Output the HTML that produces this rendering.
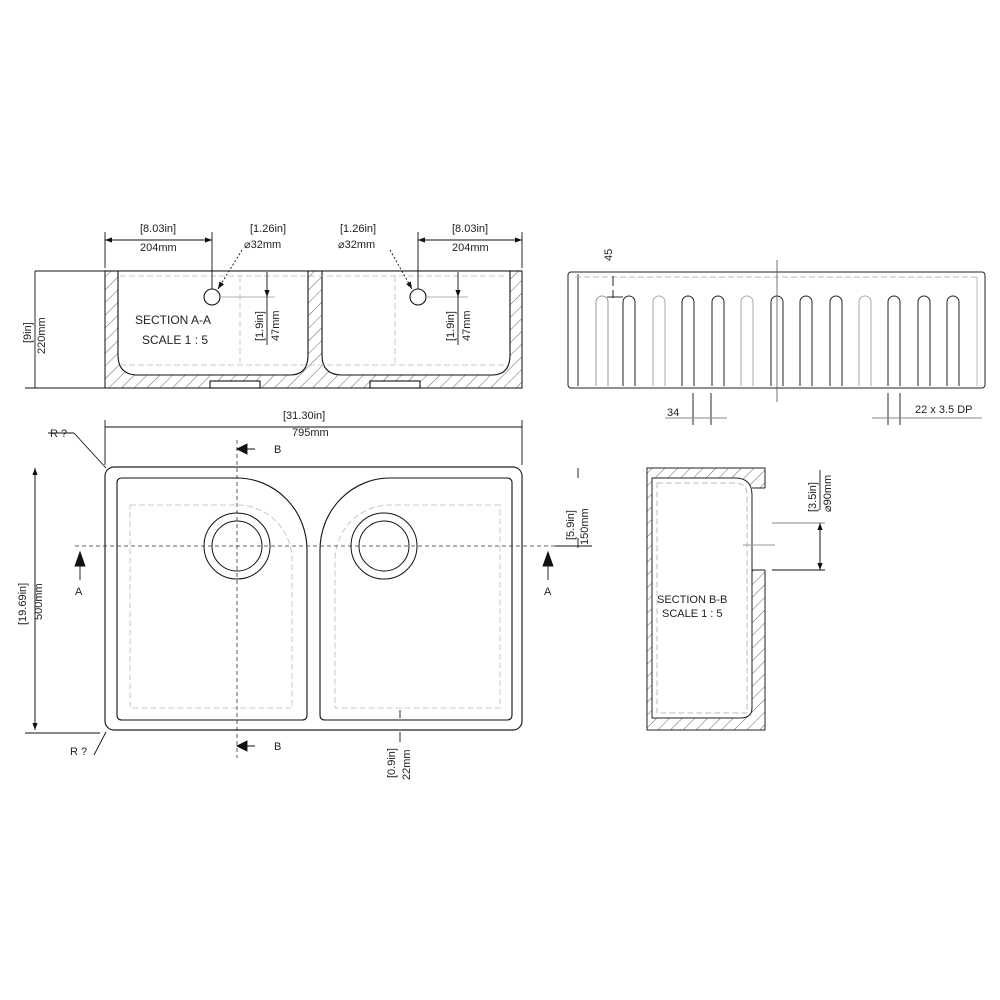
<!DOCTYPE html>
<html><head><meta charset="utf-8"><style>
html,body{margin:0;padding:0;background:#fff;}
svg{display:block;}
text{font-family:"Liberation Sans",sans-serif;fill:#222;}
</style></head><body>
<svg width="1000" height="1000" viewBox="0 0 1000 1000" xmlns="http://www.w3.org/2000/svg">
<defs>
<pattern id="h" patternUnits="userSpaceOnUse" width="9" height="9" patternTransform="rotate(45)">
<line x1="0" y1="0" x2="0" y2="9" stroke="#555" stroke-width="0.9"/>
</pattern>
<marker id="ar" markerWidth="8" markerHeight="6" refX="8" refY="3" orient="auto"><path d="M0,0 L8,3 L0,6 z" fill="#111"/></marker>
</defs>
<rect width="1000" height="1000" fill="#fff"/>

<!-- SECTION A-A -->
<g stroke="#111" stroke-width="1.1" fill="none">
<rect x="105" y="271" width="417" height="117" fill="url(#h)" stroke="#222"/>
<path d="M118,271 L118,355 Q118,375 138,375 L290,375 Q308,375 308,355 L308,271 Z" fill="#fff"/>
<path d="M322,271 L322,355 Q322,375 342,375 L492,375 Q510,375 510,355 L510,271 Z" fill="#fff"/>
<rect x="210" y="381" width="50" height="7" fill="#fff"/>
<rect x="370" y="381" width="50" height="7" fill="#fff"/>
<line x1="35" y1="271" x2="522" y2="271"/>
<circle cx="212" cy="297" r="8" fill="#fff"/>
<circle cx="418" cy="297" r="8" fill="#fff"/>
</g>
<g stroke="#bbb" stroke-width="0.8" fill="none" stroke-dasharray="6,3">
<line x1="120" y1="276" x2="506" y2="276"/>
<line x1="120" y1="365" x2="506" y2="365"/>
<line x1="240" y1="276" x2="240" y2="365"/>
<line x1="395" y1="276" x2="395" y2="365"/>
</g>
<g stroke="#999" stroke-width="0.7"><line x1="220" y1="297" x2="275" y2="297"/><line x1="426" y1="297" x2="468" y2="297"/></g>
<g stroke="#111" stroke-width="0.9" fill="none">
<line x1="105" y1="232" x2="105" y2="268"/><line x1="212" y1="232" x2="212" y2="289"/>
<line x1="105" y1="240" x2="212" y2="240" marker-end="url(#ar)"/><line x1="212" y1="240" x2="105" y2="240" marker-end="url(#ar)"/>
<line x1="418" y1="232" x2="418" y2="289"/><line x1="522" y1="232" x2="522" y2="268"/>
<line x1="418" y1="240" x2="522" y2="240" marker-end="url(#ar)"/><line x1="522" y1="240" x2="418" y2="240" marker-end="url(#ar)"/>
<line x1="242" y1="250" x2="218" y2="289" stroke-dasharray="2,2" marker-end="url(#ar)"/>
<line x1="390" y1="250" x2="412" y2="289" stroke-dasharray="2,2" marker-end="url(#ar)"/>
<line x1="267" y1="272" x2="267" y2="297" marker-end="url(#ar)"/>
<line x1="458" y1="272" x2="458" y2="297" marker-end="url(#ar)"/>
<line x1="267" y1="297" x2="267" y2="345"/><line x1="458" y1="297" x2="458" y2="345"/>
<line x1="35" y1="271" x2="35" y2="388"/><line x1="25" y1="388" x2="105" y2="388"/>
</g>
<g font-size="11">
<text x="140" y="232">[8.03in]</text><text x="140" y="251">204mm</text>
<text x="250" y="232">[1.26in]</text><text x="244" y="248">⌀32mm</text>
<text x="340" y="232">[1.26in]</text><text x="338" y="248">⌀32mm</text>
<text x="452" y="232">[8.03in]</text><text x="452" y="251">204mm</text>
<text x="135" y="324" font-size="12">SECTION A-A</text>
<text x="142" y="344" font-size="12">SCALE 1 : 5</text>
<text transform="translate(263,341) rotate(-90)">[1.9in]</text><text transform="translate(279,341) rotate(-90)">47mm</text>
<text transform="translate(454,341) rotate(-90)">[1.9in]</text><text transform="translate(470,341) rotate(-90)">47mm</text>
<text transform="translate(31,343) rotate(-90)">[9in]</text><text transform="translate(45,354) rotate(-90)">220mm</text>
</g>

<!-- FRONT VIEW -->
<g fill="none">
<rect x="568" y="272" width="417" height="116" rx="3" stroke="#222" stroke-width="1"/>
<line x1="578" y1="274" x2="578" y2="386" stroke="#222"/>
<line x1="575" y1="277" x2="980" y2="277" stroke="#bbb" stroke-dasharray="6,3"/>
<line x1="977" y1="277" x2="977" y2="386" stroke="#bbb"/>
<g stroke-width="1">
<path d="M596,386 V302 a6,6 0 0 1 12,0 V386" stroke="#999"/>
<path d="M623,386 V302 a6,6 0 0 1 12,0 V386" stroke="#222"/>
<path d="M653,386 V302 a6,6 0 0 1 12,0 V386" stroke="#aaa"/>
<path d="M682,386 V302 a6,6 0 0 1 12,0 V386" stroke="#222"/>
<path d="M712,386 V302 a6,6 0 0 1 12,0 V386" stroke="#222"/>
<path d="M741,386 V302 a6,6 0 0 1 12,0 V386" stroke="#aaa"/>
<path d="M771,386 V302 a6,6 0 0 1 12,0 V386" stroke="#222"/>
<path d="M800,386 V302 a6,6 0 0 1 12,0 V386" stroke="#222"/>
<path d="M830,386 V302 a6,6 0 0 1 12,0 V386" stroke="#222"/>
<path d="M859,386 V302 a6,6 0 0 1 12,0 V386" stroke="#aaa"/>
<path d="M888,386 V302 a6,6 0 0 1 12,0 V386" stroke="#222"/>
<path d="M918,386 V302 a6,6 0 0 1 12,0 V386" stroke="#222"/>
<path d="M947,386 V302 a6,6 0 0 1 12,0 V386" stroke="#222"/>
</g>
<line x1="777" y1="260" x2="777" y2="402" stroke="#555" stroke-width="0.8"/>
<g stroke="#111" stroke-width="0.9">
<line x1="613" y1="276" x2="613" y2="286"/><line x1="613" y1="290" x2="613" y2="298"/><line x1="607" y1="297" x2="623" y2="297"/>
<line x1="693" y1="393" x2="693" y2="425"/><line x1="711" y1="393" x2="711" y2="425"/>
<line x1="665" y1="418" x2="727" y2="418" stroke="#888"/>
<line x1="888" y1="393" x2="888" y2="425"/><line x1="900" y1="393" x2="900" y2="425"/>
<line x1="872" y1="418" x2="982" y2="418" stroke="#888"/>
</g>
</g>
<g font-size="11">
<text transform="translate(612,261) rotate(-90)">45</text>
<text x="667" y="416">34</text>
<text x="915" y="413">22 x 3.5 DP</text>
</g>

<!-- PLAN VIEW -->
<g fill="none">
<rect x="105" y="467" width="417" height="263" rx="9" stroke="#222" stroke-width="1.2"/>
<path d="M117,483 Q117,478 122,478 L237,478 A70,72 0 0 1 307,550 L307,715 Q307,720 302,720 L122,720 Q117,720 117,715 Z" stroke="#111" stroke-width="1.1"/>
<path d="M512,483 Q512,478 507,478 L390,478 A70,72 0 0 0 320,550 L320,715 Q320,720 325,720 L507,720 Q512,720 512,715 Z" stroke="#111" stroke-width="1.1"/>
<g stroke="#bbb" stroke-width="0.8" stroke-dasharray="6,3">
<path d="M130,505 L237,505 A55,55 0 0 1 292,560 L292,708 L130,708 Z"/>
<path d="M500,505 L390,505 A55,55 0 0 0 335,560 L335,708 L500,708 Z"/>
</g>
<circle cx="237" cy="546" r="33" stroke="#111"/><circle cx="237" cy="546" r="25" stroke="#111"/>
<circle cx="384" cy="546" r="33" stroke="#111"/><circle cx="384" cy="546" r="25" stroke="#111"/>
<g stroke="#333" stroke-width="0.8" stroke-dasharray="4,3">
<line x1="75" y1="546" x2="560" y2="546"/>
<line x1="237" y1="440" x2="237" y2="758"/>
</g>
<g stroke="#111" stroke-width="0.9">
<path d="M237,449 L255,449" /><path d="M237,449 L247,444 L247,454 Z" fill="#111"/>
<path d="M237,746 L255,746" /><path d="M237,746 L247,741 L247,751 Z" fill="#111"/>
<line x1="80" y1="555" x2="80" y2="580"/><path d="M80,552 L75,566 L85,566 Z" fill="#111"/>
<line x1="548" y1="555" x2="548" y2="580"/><path d="M548,552 L543,566 L553,566 Z" fill="#111"/>
<line x1="105" y1="420" x2="105" y2="465"/><line x1="522" y1="420" x2="522" y2="465"/>
<line x1="105" y1="427" x2="522" y2="427"/>
<line x1="35" y1="468" x2="35" y2="730" marker-end="url(#ar)"/><line x1="35" y1="730" x2="35" y2="468" marker-end="url(#ar)"/>
<line x1="25" y1="733" x2="100" y2="733"/>
<line x1="578" y1="468" x2="578" y2="478"/><line x1="578" y1="538" x2="578" y2="548"/>
<line x1="555" y1="546" x2="592" y2="546"/>
<line x1="400" y1="710" x2="400" y2="718"/><line x1="400" y1="732" x2="400" y2="742"/>
<line x1="48" y1="433" x2="74" y2="433"/><line x1="74" y1="433" x2="106" y2="468"/>
<line x1="106" y1="732" x2="94" y2="755"/>
</g>
</g>
<g font-size="11">
<text x="283" y="419">[31.30in]</text><text x="292" y="436">795mm</text>
<text x="274" y="453">B</text><text x="274" y="750">B</text>
<text x="75" y="595">A</text><text x="544" y="595">A</text>
<text x="50" y="437">R ?</text><text x="70" y="755">R ?</text>
<text transform="translate(26,625) rotate(-90)">[19.69in]</text><text transform="translate(42,620) rotate(-90)">500mm</text>
<text transform="translate(574,540) rotate(-90)">[5.9in]</text><text transform="translate(588,545) rotate(-90)">150mm</text>
<text transform="translate(395,778) rotate(-90)">[0.9in]</text><text transform="translate(410,780) rotate(-90)">22mm</text>
</g>

<!-- SECTION B-B -->
<g fill="none">
<rect x="647" y="468" width="118" height="262" fill="url(#h)" stroke="#222"/>
<rect x="752" y="488" width="14" height="82" fill="#fff" stroke="none"/>
<path d="M652,478 L735,478 Q752,478 752,495 L752,708 Q752,718 740,718 L652,718 Z" fill="#fff" stroke="#222"/>
<path d="M752,488 L765,488 M752,570 L765,570" stroke="#222"/>
<path d="M657,483 L735,483 Q747,483 747,495 L747,713 L657,713 Z" stroke="#bbb" stroke-dasharray="6,3"/>
<g stroke="#111" stroke-width="0.9">
<line x1="772" y1="523" x2="825" y2="523" stroke="#888"/>
<line x1="772" y1="570" x2="825" y2="570"/>
<line x1="820" y1="523" x2="820" y2="570" marker-end="url(#ar)"/><line x1="820" y1="570" x2="820" y2="523" marker-end="url(#ar)"/>
<line x1="820" y1="470" x2="820" y2="510"/>
<line x1="743" y1="545" x2="775" y2="545" stroke="#999"/>
</g>
</g>
<g font-size="11">
<text x="657" y="603">SECTION B-B</text><text x="662" y="617">SCALE 1 : 5</text>
<text transform="translate(816,512) rotate(-90)">[3.5in]</text><text transform="translate(831,512) rotate(-90)">⌀90mm</text>
</g>
</svg>
</body></html>
